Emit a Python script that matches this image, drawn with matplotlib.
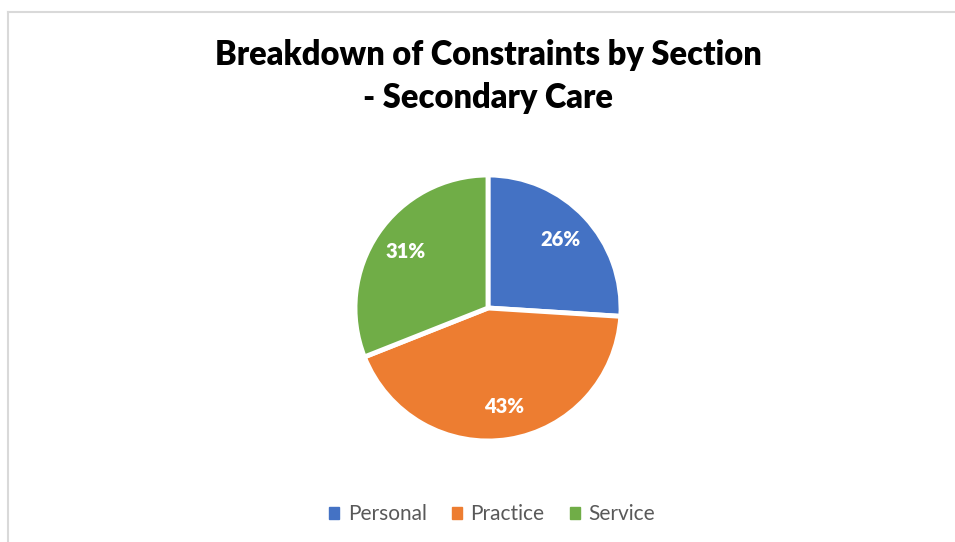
import matplotlib.pyplot as plt
from matplotlib.lines import Line2D
from matplotlib.patches import Patch

sections = ["Personal", "Practice", "Service"]
shares = [26, 43, 31]
colors = ["#4472C4", "#ED7D31", "#70AD47"]

plt.rcParams["font.family"] = ["Lato", "DejaVu Sans"]

W, H = 955, 542
fig = plt.figure(figsize=(W / 100, H / 100), dpi=100)
fig.patch.set_facecolor("white")

# chart frame (only top and left edges are visible in the crop)
fig.add_artist(Line2D([8 / W, 8 / W], [0, 1 - 12 / H], color="#d9d9d9", lw=1.5))
fig.add_artist(Line2D([8 / W, 1], [1 - 12 / H, 1 - 12 / H], color="#d9d9d9", lw=1.5))

# pie centre (488, 308), radius ~132 px
cx, cy, r = 488, 308, 133
ax = fig.add_axes([(cx - r) / W, 1 - (cy + r) / H, 2 * r / W, 2 * r / H])
wedges, texts, autotexts = ax.pie(
    shares,
    colors=colors,
    startangle=90,
    counterclock=False,
    autopct="%1.0f%%",
    pctdistance=0.75,
    wedgeprops=dict(edgecolor="white", linewidth=3.5),
    textprops=dict(color="white", fontsize=14.5, fontweight="heavy"),
)
ax.set_xlim(-1, 1)
ax.set_ylim(-1, 1)
ax.set_aspect("equal")
ax.axis("off")

fig.text(488 / W, 1 - 55 / H, "Breakdown of Constraints by Section",
         ha="center", va="center", fontsize=23.5, fontweight="heavy", color="black")
fig.text(488 / W, 1 - 98 / H, "- Secondary Care",
         ha="center", va="center", fontsize=23.5, fontweight="heavy", color="black")

handles = [Patch(facecolor=c, edgecolor=c) for c in colors]
fig.legend(handles, sections, loc="center", bbox_to_anchor=(492 / W, 1 - 514 / H),
           ncol=3, frameon=False, fontsize=15, handlelength=0.5, handleheight=0.5,
           handletextpad=0.4, columnspacing=1.2, labelcolor="#595959")

fig.savefig("out.png", dpi=100, facecolor="white")
